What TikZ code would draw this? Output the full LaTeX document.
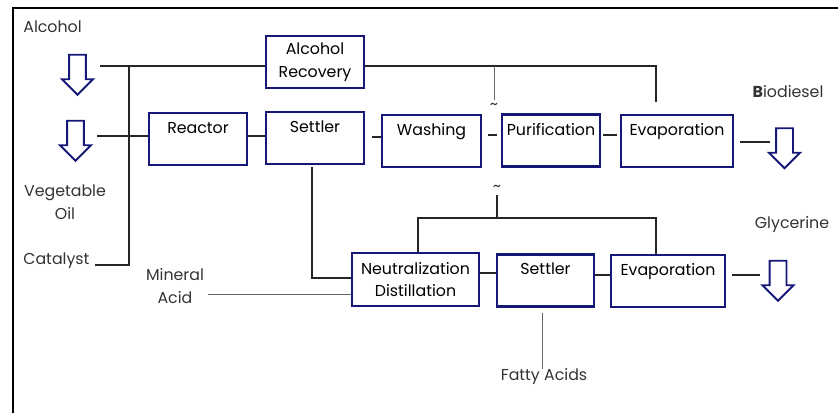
\documentclass[tikz,border=0pt]{standalone}
\usepackage{fontspec}
\setmainfont{Poppins}
\usepackage{tikz}
\usetikzlibrary{positioning}
\usetikzlibrary{shapes.arrows}
\definecolor{unitblue}{RGB}{22,24,120}
\tikzset{
    unit/.style = {draw = unitblue, line width = 1.6pt, minimum width = 1.96cm, minimum height = 1.04cm, align = center, inner sep = 0pt},
    feed/.style = {single arrow, draw = unitblue, line width = 1.1pt, shape border rotate = 270, minimum height = 0.8cm, minimum width = 0.58cm, single arrow head extend = 0.14cm, inner sep = 0.15cm},
    pipe/.style = {line width = 1pt, black!85},
    thin pipe/.style = {line width = 0.55pt, black!60},
    tag/.style = {align = center, inner sep = 0pt, text = black!80}
}

\begin{document}
\begin{tikzpicture}[x = 0.02cm, y = -0.02cm, font = \fontsize{9}{13}\selectfont]
    \useasboundingbox (0,0) rectangle (838,413);
    \coordinate (frameA) at (13,413);
    \coordinate (frameB) at (838,8);
    \draw[line width = 0.9pt] (frameA) |- (frameB);

    % units
    \node[unit] at (315,62) (recovery) {Alcohol\\Recovery};
    \node[unit] at (198,139) (reactor) {Reactor\\\mbox{}};
    \node[unit] at (315,138) (settlerA) {Settler\\\mbox{}};
    \node[unit, minimum width = 1.98cm] at (431.5,141) (washing) {Washing\\\mbox{}};
    \node[unit] at (551,140.5) (purification) {Purification\\\mbox{}};
    \node[unit, minimum width = 2.24cm] at (677,141) (evapA) {Evaporation\\\mbox{}};
    \node[unit, minimum width = 2.54cm, minimum height = 1.06cm] at (415.5,279.5) (neutral) {Neutralization\\Distillation};
    \node[unit, minimum width = 1.94cm] at (545.5,280.5) (settlerB) {Settler\\\mbox{}};
    \node[unit, minimum width = 2.28cm] at (668,281) (evapB) {Evaporation\\\mbox{}};

    % feeds and products
    \node[feed] at (77.5,70.5) (alcin) {};
    \node[feed] at (75.5,136.5) (oilin) {};
    \node[feed] at (784.5,144) (bioout) {};
    \node[feed] at (778,276.5) (glyout) {};

    \node[tag, anchor = west] at (23,27) (alcohol) {Alcohol};
    \node[tag] at (65,202) (oil) {Vegetable\\Oil};
    \node[tag, anchor = west] at (23,261) (catalyst) {Catalyst};
    \node[tag] at (175,286) (acid) {Mineral\\Acid};
    \node[tag] at (788,92) (biodiesel) {\textbf{B}iodiesel};
    \node[tag] at (792,225) (glycerine) {Glycerine};
    \node[tag] at (544,377) (fatty) {Fatty Acids};
    \node[tag, font = \small] at (494,106) (tildeA) {\textasciitilde};
    \node[tag, font = \small] at (497,188) (tildeB) {\textasciitilde};

    % alcohol and catalyst lines
    \coordinate (alcend) at (100,66);
    \coordinate (mix) at (129,66);
    \coordinate (catend) at (95,265);
    \draw[pipe] (alcend) -- (alcend -| recovery.west);
    \draw[pipe] (mix) |- (catend);
    \coordinate (oilend) at (97,136);
    \draw[pipe] (oilend) -- (oilend -| reactor.west);

    % recovered alcohol
    \coordinate (busA) at (656,66);
    \coordinate (evapAfeed) at (656,102);
    \coordinate (tapA) at (494,66);
    \coordinate (tapAend) at (494,100);
    \draw[pipe] (recovery.east |- busA) -- (busA) -- (evapAfeed);
    \draw[thin pipe] (tapA) -- (tapAend);

    % biodiesel line
    \draw[pipe] (reactor.east |- 0,136) -- (settlerA.west |- 0,136);
    \draw[pipe] (372,137) -- (washing.west |- 0,137);
    \draw[pipe] (488,135) -- (497,135);
    \draw[pipe] (603,135) -- (617,135);
    \coordinate (bioA) at (740,142);
    \coordinate (bioB) at (770,142);
    \draw[pipe] (bioA) -- (bioB);

    % glycerine line
    \coordinate (drain) at (312,167);
    \draw[pipe] (drain) |- (neutral.west |- 0,278);
    \coordinate (acidend) at (208,294);
    \draw[thin pipe] (acidend) -- (acidend -| neutral.west);
    \coordinate (busB) at (418,218);
    \coordinate (busBend) at (656,218);
    \coordinate (tapB) at (497,195);
    \draw[pipe] (busB |- neutral.north) -- (busB) -- (busBend) -- (busBend |- evapB.north);
    \draw[pipe] (tapB) -- (tapB |- busB);
    \draw[pipe] (neutral.east |- 0,273) -- (settlerB.west |- 0,273);
    \draw[pipe] (settlerB.east |- 0,275) -- (evapB.west |- 0,275);
    \coordinate (glyA) at (732,275);
    \coordinate (glyB) at (760,275);
    \draw[pipe] (glyA) -- (glyB);
    \coordinate (fattyout) at (542,313);
    \draw[thin pipe] (fattyout) -- (fattyout |- fatty.north);
\end{tikzpicture}
\end{document}
